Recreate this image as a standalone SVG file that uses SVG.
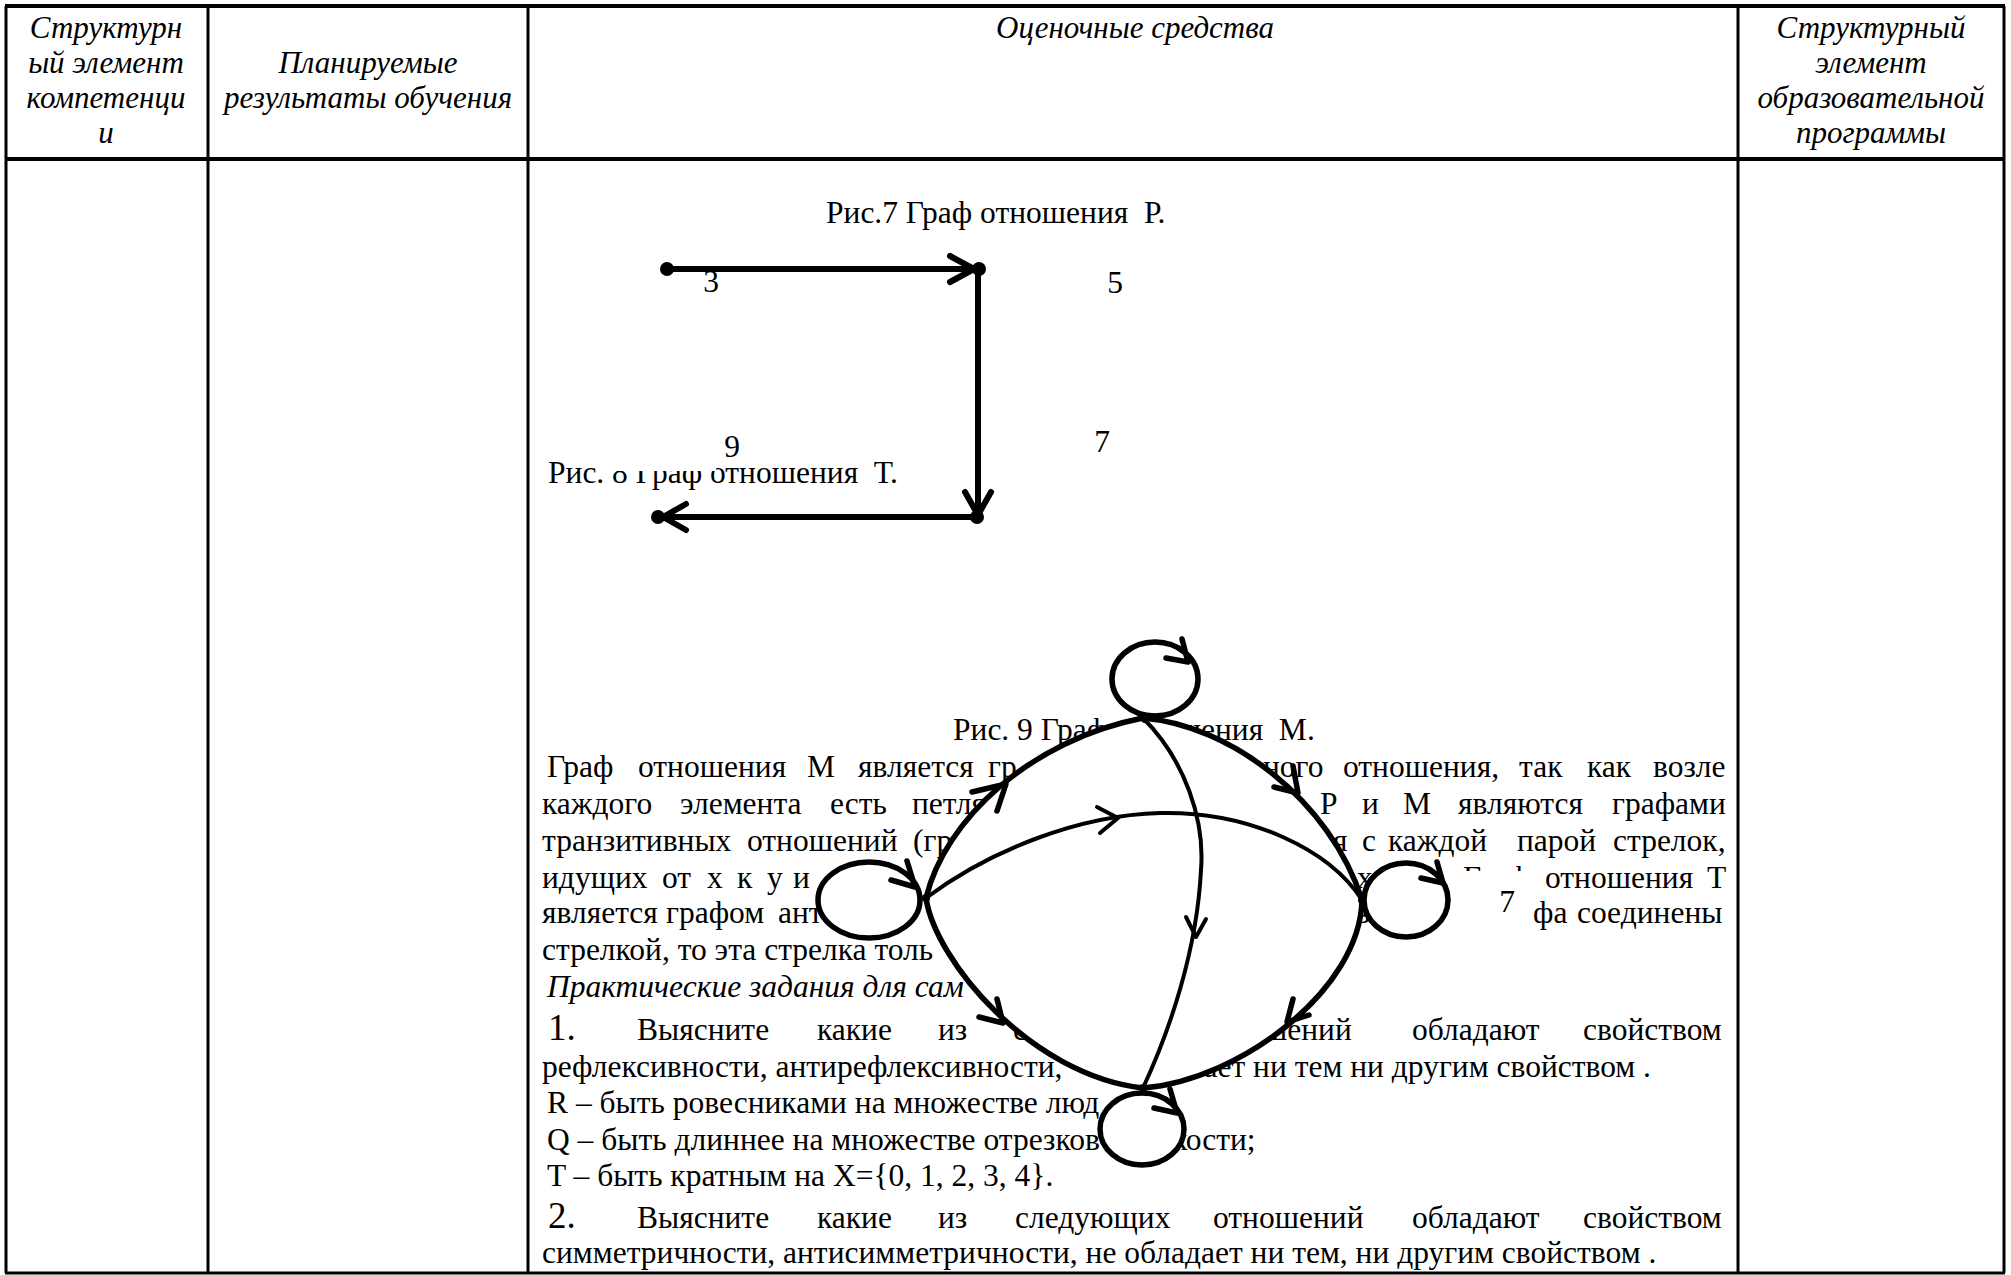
<svg xmlns="http://www.w3.org/2000/svg" width="2011" height="1275" viewBox="0 0 2011 1275">
<style>
.h{font-family:"Liberation Serif","Times New Roman",serif;font-style:italic;font-size:31px;text-anchor:middle;fill:#000}
.t{font-family:"Liberation Serif","Times New Roman",serif;font-size:31.5px;fill:#000}
.i{font-style:italic}
.big{font-size:37px}
.mid{text-anchor:middle}
.end{text-anchor:end}
.grid{stroke:#000;stroke-width:3;fill:none}
.e{fill:none;stroke:#000;stroke-width:5.5;stroke-linecap:round;stroke-linejoin:round}
.e2{fill:none;stroke:#000;stroke-width:4;stroke-linecap:round;stroke-linejoin:round}
.f7{fill:none;stroke:#000;stroke-width:6;stroke-linecap:round;stroke-linejoin:round}
.lp{fill:#fff;stroke:#000;stroke-width:5.5}
.mask{fill:#fff;stroke:none}
.dot{fill:#000}
</style>
<rect width="2011" height="1275" fill="#fff"/>

<g id="table" class="grid">
<line x1="5" y1="6" x2="2005" y2="6" stroke-width="4"/>
<line x1="5" y1="159" x2="2005" y2="159" stroke-width="4"/>
<line x1="5" y1="1273" x2="2005" y2="1273"/>
<line x1="6" y1="6" x2="6" y2="1273"/>
<line x1="208" y1="6" x2="208" y2="1273"/>
<line x1="528" y1="6" x2="528" y2="1273"/>
<line x1="1738" y1="6" x2="1738" y2="1273"/>
<line x1="2004" y1="6" x2="2004" y2="1273"/>
</g>

<g id="header">
<text class="h" x="106" y="38">Структурн</text>
<text class="h" x="106" y="73">ый элемент</text>
<text class="h" x="106" y="108">компетенци</text>
<text class="h" x="106" y="143">и</text>
<text class="h" x="368" y="73">Планируемые</text>
<text class="h" x="368" y="108">результаты обучения</text>
<text class="h" x="1135" y="38">Оценочные средства</text>
<text class="h" x="1871" y="38">Структурный</text>
<text class="h" x="1871" y="73">элемент</text>
<text class="h" x="1871" y="108">образовательной</text>
<text class="h" x="1871" y="143">программы</text>
</g>

<!-- Figure 7 / 8 -->
<text class="t" x="826" y="223">Рис.7 Граф отношения&#160; Р.</text>
<text class="t" x="548" y="483">Рис. 8 Граф отношения&#160; Т.</text>
<rect class="mask" x="607" y="440" width="109" height="31"/>
<g id="fig7-edges">
<path class="f7" d="M667,269 H974 M950,256 L974,269 L950,282"/>
<path class="f7" d="M978,269 V515 M965,492 L978,515 L991,492"/>
<path class="f7" d="M978,517 H662 M686,504 L663,517 L686,530"/>
</g>
<g id="p3"><circle class="dot" cx="667" cy="269" r="7"/><text class="t mid" x="711" y="292">3</text></g>
<g id="p5"><circle class="dot" cx="979" cy="269" r="7"/><text class="t mid" x="1115" y="293">5</text></g>
<g id="p7"><circle class="dot" cx="977" cy="517" r="7"/><text class="t mid" x="1102" y="452">7</text></g>
<g id="p9"><circle class="dot" cx="658" cy="517" r="7"/><text class="t mid" x="732" y="457">9</text></g>

<!-- Body text -->
<text class="t" x="953" y="740">Рис. 9 Граф отношения&#160; М.</text>
<text class="t" y="777"><tspan x="547">Граф</tspan><tspan x="638">отношения</tspan><tspan x="807">М</tspan><tspan x="858">является</tspan><tspan x="988">гр</tspan><tspan x="1263">ного</tspan><tspan x="1343">отношения,</tspan><tspan x="1519">так</tspan><tspan x="1587">как</tspan><tspan x="1653">возле</tspan></text>
<text class="t" y="814"><tspan x="542">каждого</tspan><tspan x="680">элемента</tspan><tspan x="830">есть</tspan><tspan x="912">петля</tspan><tspan x="1320">Р</tspan><tspan x="1362">и</tspan><tspan x="1403">М</tspan><tspan x="1458">являются</tspan><tspan x="1612">графами</tspan></text>
<text class="t" y="851"><tspan x="542">транзитивных</tspan><tspan x="747">отношений</tspan><tspan x="913">(гр</tspan><tspan x="1333">я</tspan><tspan x="1362">с</tspan><tspan x="1388">каждой</tspan><tspan x="1517">парой</tspan><tspan x="1613">стрелок,</tspan></text>
<text class="t" y="888"><tspan x="542">идущих</tspan><tspan x="662">от</tspan><tspan x="707">х</tspan><tspan x="737">к</tspan><tspan x="767">у</tspan><tspan x="793">и</tspan><tspan x="1357">х</tspan><tspan x="1463">Граф</tspan><tspan x="1545">отношения</tspan><tspan x="1707">Т</tspan></text>
<text class="t" y="923"><tspan x="542">является</tspan><tspan x="666">графом</tspan><tspan x="778">ант</tspan><tspan x="1355">в</tspan><tspan x="1533">фа</tspan><tspan x="1577">соединены</tspan></text>
<text class="t" x="542" y="960">стрелкой, то эта стрелка толь</text>
<text class="t i" x="547" y="997">Практические задания для сам</text>
<text class="t" y="1040"><tspan class="big" x="548">1.</tspan><tspan x="637">Выясните</tspan><tspan x="817">какие</tspan><tspan x="938">из</tspan><tspan x="1013">с</tspan><tspan x="1263">шений</tspan><tspan x="1412">обладают</tspan><tspan x="1583">свойством</tspan></text>
<text class="t" x="542" y="1077">рефлексивности, антирефлексивности,</text>
<text class="t end" x="1651" y="1077">ает ни тем ни другим свойством .</text>
<text class="t" x="547" y="1113">R – быть ровесниками на множестве люд</text>
<text class="t" x="547" y="1150">Q – быть длиннее на множестве отрезков</text>
<text class="t" x="1172" y="1150">кости;</text>
<text class="t" x="547" y="1186">T – быть кратным на X={0, 1, 2, 3, 4}.</text>
<text class="t" y="1228"><tspan class="big" x="548">2.</tspan><tspan x="637">Выясните</tspan><tspan x="817">какие</tspan><tspan x="938">из</tspan><tspan x="1015">следующих</tspan><tspan x="1213">отношений</tspan><tspan x="1412">обладают</tspan><tspan x="1583">свойством</tspan></text>
<text class="t" x="542" y="1263">симметричности, антисимметричности, не обладает ни тем, ни другим свойством .</text>

<!-- Figure 9: graph M -->
<path class="mask" d="M926,898 C945,820 1030,740 1143,718 C1230,725 1330,800 1362,900 C1360,990 1240,1080 1143,1088 C1030,1075 935,960 926,898 Z"/>
<rect class="mask" x="1450" y="871" width="83" height="57"/>

<g id="connectors">
<path class="e" d="M926,898 C945,820 1030,740 1143,718"/>
<path class="e" d="M972,792 L1006,784 L997,811"/>
<path class="e" d="M1143,718 C1230,725 1330,800 1362,900"/>
<path class="e" d="M1274,787 L1298,793 L1293,766"/>
<path class="e" d="M1362,900 C1360,990 1240,1080 1143,1088"/>
<path class="e" d="M1293,999 L1287,1022 L1309,1015"/>
<path class="e" d="M926,898 C935,960 1030,1075 1143,1088"/>
<path class="e" d="M997,999 L1003,1023 L979,1017"/>
<path class="e2" d="M926,898 C990,850 1080,815 1160,813 C1250,811 1330,850 1362,900"/>
<path class="e2" d="M1097,807 L1118,818 L1100,833"/>
<path class="e2" d="M1143,718 C1185,760 1205,820 1201,870 C1197,950 1170,1030 1143,1088"/>
<path class="e2" d="M1186,917 L1196,937 L1206,919"/>
</g>

<g id="node-top">
<ellipse class="lp" cx="1155" cy="679" rx="43" ry="37"/>
<path class="e" d="M1182,639 L1188,662 L1166,658"/>
<circle class="dot" cx="1145" cy="719" r="4"/>
</g>
<g id="node-left">
<ellipse class="lp" cx="869" cy="900" rx="51" ry="38"/>
<path class="e" d="M907,861 L915,887 L891,880"/>
<circle class="dot" cx="926" cy="898" r="4"/>
</g>
<g id="node-right">
<ellipse class="lp" cx="1406" cy="900" rx="42" ry="37"/>
<path class="e" d="M1437,862 L1443,883 L1421,878"/>
<circle class="dot" cx="1362" cy="900" r="4"/>
<text class="t mid" x="1507" y="912">7</text>
</g>
<g id="node-bottom">
<ellipse class="lp" cx="1142" cy="1129" rx="42" ry="36"/>
<path class="e" d="M1170,1089 L1177,1113 L1154,1108"/>
<circle class="dot" cx="1143" cy="1088" r="4"/>
</g>
</svg>
